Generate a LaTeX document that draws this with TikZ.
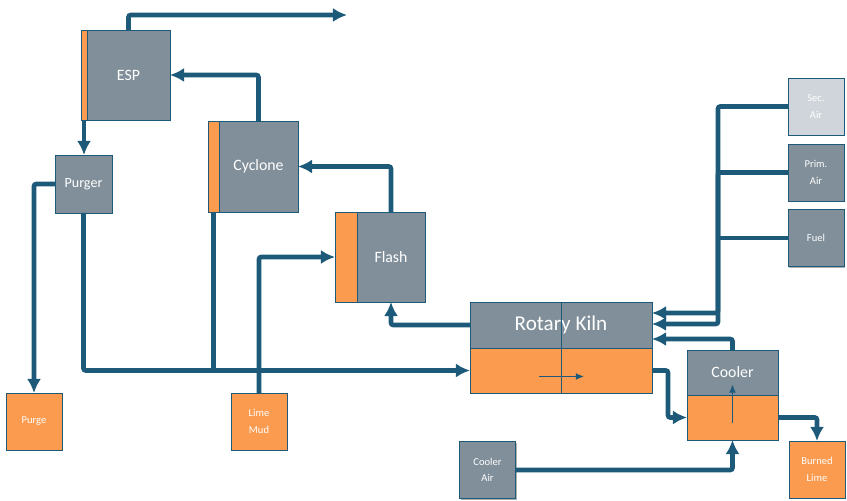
\documentclass[tikz,border=0pt]{standalone}
\usepackage{fontspec}
\setmainfont{Carlito}
\usetikzlibrary{arrows.meta,calc,positioning,shadows}
\definecolor{pipe}{HTML}{1D5A79}
\definecolor{slate}{HTML}{808F99}
\definecolor{paleslate}{HTML}{CFD5DA}
\definecolor{hot}{HTML}{FB9B50}

\begin{document}
\begin{tikzpicture}[x=0.3mm,y=-0.3mm,>={Latex[length=12pt,width=12pt]},
  unit/.style={draw=pipe,line width=0.8pt,fill=slate,text=white,outer sep=0pt,inner sep=0pt,
    font=\fontsize{13.5}{16}\selectfont,
    drop shadow={shadow xshift=1.2pt,shadow yshift=-1.2pt,opacity=0.3,fill=black}},
  stripe/.style={unit,fill=hot},
  tag/.style={unit,minimum width=1.68cm,minimum height=1.71cm,align=center,font=\fontsize{9}{14}\selectfont},
  duct/.style={line width=4pt,draw=pipe,rounded corners=2pt},
  flow/.style={duct,->},
  thinflow/.style={->,draw=pipe,line width=1.2pt,>={Latex[length=7pt,width=6pt]}}]
\useasboundingbox (0,0) rectangle (847,501);
% separators
\node[stripe,minimum width=0.18cm,minimum height=2.7cm] (espS) at (84,75) {};
\node[unit,minimum width=2.49cm,minimum height=2.7cm,right=0pt of espS] (esp) {ESP};
\node[stripe,minimum width=0.33cm,minimum height=2.73cm] (cycS) at (213.5,166.5) {};
\node[unit,minimum width=2.37cm,minimum height=2.73cm,right=0pt of cycS] (cyc) {Cyclone};
\node[stripe,minimum width=0.66cm,minimum height=2.7cm] (flashS) at (346,257) {};
\node[unit,minimum width=2.04cm,minimum height=2.7cm,right=0pt of flashS] (flash) {Flash};
\node[unit,minimum width=1.71cm,minimum height=1.74cm,font=\fontsize{12}{14}\selectfont] (purger) at (83.5,184) {Purger};
% kiln and cooler
\node[unit,minimum width=5.46cm,minimum height=1.38cm,font=\fontsize{18}{20}\selectfont] (kiln) at (561,325) {Rotary Kiln};
\node[stripe,minimum width=5.46cm,minimum height=1.35cm,below=0pt of kiln] (kilnB) {};
\draw[pipe,line width=0.8pt] (kiln.north) -- (kilnB.south);
\node[unit,minimum width=2.73cm,minimum height=1.35cm] (cool) at (732.5,372.5) {Cooler};
\node[stripe,minimum width=2.73cm,minimum height=1.35cm,below=0pt of cool] (coolB) {};
% feeds and products
\node[tag,fill=hot] (purge) at (34,421.5) {Purge};
\node[tag,fill=hot] (mud) at (259,421.5) {Lime\\Mud};
\node[tag] (cair) at (487.5,470) {Cooler\\Air};
\node[tag,fill=hot] (burned) at (817,469.5) {Burned\\Lime};
\node[tag,fill=paleslate] (sec) at (816,106.5) {Sec.\\Air};
\node[tag] (prim) at (816,172.5) {Prim.\\Air};
\node[tag] (fuel) at (816,238) {Fuel};
\coordinate (stack) at (347,15);
\coordinate (busA) at (718,313);
\coordinate (busB) at (718,324);
% gas side
\draw[flow] (esp.north) |- (stack);
\draw[flow] (cyc.north) |- (esp.east);
\draw[flow] (flash.north) |- (cyc.east);
\draw[flow] (kiln.west) -| (flash.south);
% solids side
\draw[flow] (espS.south) -- (espS.south |- purger.north);
\draw[flow] (purger.west) -| (purge.north);
\draw[flow] (purger.south) |- (kilnB.west);
\draw[duct] (cycS.south) -- (cycS.south |- kilnB.west);
\draw[flow] (mud.north) |- (flashS.west);
\draw[flow] (kilnB.east) -- ++(16,0) |- (coolB.west);
\draw[flow] (coolB.east) -| (burned.north);
% air and fuel
\draw[flow] (sec.west) -| (busA) -- (busA -| kiln.east);
\draw[flow] (prim.west) -| (busB) -- (busB -| kiln.east);
\draw[duct] (fuel.west) -- (fuel.west -| busA);
\draw[flow] (cool.north) |- ($(kiln.east)+(0,14)$);
\draw[flow] (cair.east) -| (coolB.south);
\draw[thinflow] ($(kilnB.center)+(-22,6)$) -- ++(45,0);
\draw[thinflow] ($(coolB.center)+(0,5)$) -- ($(cool.center)+(0,12)$);
\end{tikzpicture}
\end{document}
